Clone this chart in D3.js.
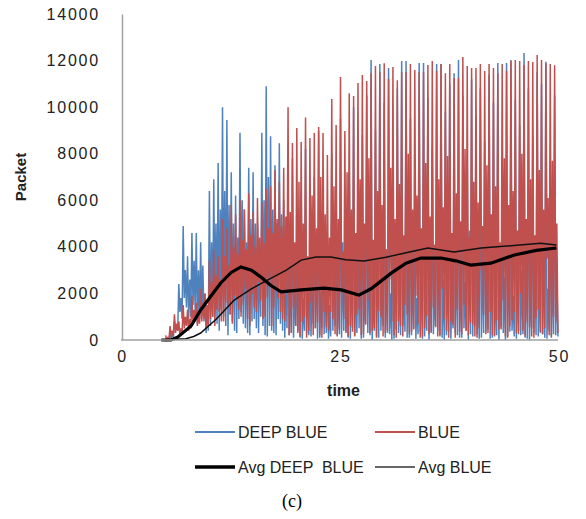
<!DOCTYPE html>
<html>
<head>
<meta charset="utf-8">
<script src="https://cdn.jsdelivr.net/npm/d3@7"></script>
<style>
  body { margin: 0; background: #fff; }
  #graf text { font-family: "Liberation Sans", Arial, sans-serif; fill: #222; }
  .axis .domain { stroke: #a0a0a0; stroke-width: 1.5px; }
  .axis text { font-size: 16px; letter-spacing: 1.8px; }
</style>
</head>
<body>
<div id="graf"></div>
<script>
// each cycle of 0.5 time units from t = 5: peak, trough, mid, low
const redPeaks = [200, 600, 1100, 800, 1500, 1300, 1900, 1600, 2200, 2000,
  3400, 3900, 3600, 5200, 4800, 5800, 5400, 6000, 5600, 6300,
  5500, 6100, 5900, 6500, 6600, 7300, 6800, 7400,
  10000, 8460, 9100, 8500, 9560, 8670, 8890, 9150, 8890, 7940,
  10350, 9230, 11290, 8970, 10600, 10480, 11040, 11380, 11120, 11460,
  11770, 11510, 11890, 11210, 11720, 11160, 11510, 11510, 11850, 11590,
  11510, 11510, 11810, 11980, 11550, 11850, 11460, 11850, 11250, 11250,
  12150, 11770, 11680, 11680, 11850, 11550, 11850, 11680, 11460, 11850,
  11550, 11980, 12020, 11980, 11810, 11980, 11940, 12240, 12020, 11890,
  11850, 11800]
const redTroughs = [0, 100, 300, 200, 500, 400, 700, 600, 800, 500,
  900, 600, 1200, 800, 1500, 700, 1800, 1000, 2200, 600,
  1400, 2500, 900, 1800, 600, 2200, 1200, 800,
  200, 1400, 300, 800, 100, 1600, 500, 200, 1200, 400,
  900, 150, 2000, 300, 600, 150, 1300, 250, 1700, 400,
  100, 1000, 300, 2600, 200, 800, 150, 1100, 350, 1900,
  100, 500, 250, 1400, 150, 2200, 400, 800, 100, 350,
  1500, 200, 650, 100, 3000, 250, 1200, 150, 450, 1700,
  100, 850, 300, 2000, 150, 550, 100, 1300, 250, 3500,
  150, 750]
const redMids = [100, 400, 700, 500, 1000, 900, 1300, 1100, 1600, 1500,
  2500, 2800, 2600, 3600, 3200, 4000, 3700, 4300, 3900, 4500,
  4000, 4400, 4200, 4800, 4600, 5200, 4900, 5300,
  5500, 4200, 6800, 5000, 3600, 6200, 4800, 7000, 5400, 4400,
  6600, 5200, 3800, 7200, 5600, 4600, 6900, 5000, 7800, 4300,
  6400, 5800, 3900, 7400, 5200, 6700, 4500, 8000, 5600, 6200,
  4800, 7600, 5300, 4100, 6900, 5700, 7900, 4600, 6300, 5100,
  8200, 4400, 6800, 5900, 4900, 7500, 5400, 6600, 4200, 7800,
  5800, 6400, 4700, 8000, 5200, 6900, 4500, 7300, 5600, 6100,
  7700, 5000]
const redLows = [50, 200, 400, 300, 600, 500, 800, 700, 900, 600,
  1000, 1300, 800, 1600, 1100, 1900, 1300, 1500, 900, 2000,
  1200, 1700, 1000, 2300, 1400, 1800, 900, 2100,
  300, 600, 150, 1000, 400, 200, 750, 100, 550, 1200,
  250, 450, 900, 150, 350, 1100, 200, 650, 300, 500,
  1250, 150, 400, 800, 100, 600, 1500, 250, 450, 700,
  150, 1050, 350, 550, 200, 900, 100, 650, 1300, 250,
  400, 750, 150, 500, 1100, 300, 200, 850, 450, 150,
  600, 1200, 250, 400, 750, 150, 950, 350, 500, 200,
  1000, 300]
const bluePeaks = [100, 300, 800, 2400, 4900, 3600, 4600, 4600, 4200, 2000,
  6400, 6900, 7600, 10000, 9450, 7200, 6200, 8900, 5600, 7400,
  7200, 5000, 8900, 10900, 8750, 7500, 8450, 6000,
  5200, 7800, 3500, 6400, 8200, 4100, 7000, 9000, 5500, 3800,
  8000, 6300, 9500, 4600, 7200, 10000, 5800, 8800, 10500,
  12020, 9000, 11850, 10200, 11680, 7500, 10800, 11980, 11980, 9500,
  6800, 11900, 11900, 10400, 8200, 11850, 11850, 9800, 11000, 11460,
  12020, 10500, 7800, 11200, 9600, 10800, 8500, 11400, 10200, 11900,
  6500, 11900, 12020, 10300, 9200, 12320, 10800, 8800, 11500, 11000,
  11950, 7800, 10500]
const blueTroughs = [0, 100, 500, 1200, 1800, 900, 1500, 700, 1100, 300,
  600, 1500, 400, 1000, 200, 800, 300, 1200, 500, 200,
  900, 300, 600, 150, 400, 200, 700, 100,
  200, 100, 400, 50, 300, 150, 500, 100, 250, 50,
  400, 200, 100, 350, 50, 200, 500, 100, 300, 0,
  150, 400, 100, 250, 50, 300, 600, 100, 200, 50,
  350, 150, 0, 250, 400, 100, 200, 50, 300, 100,
  500, 0, 150, 250, 100, 350, 50, 200, 0, 300,
  150, 400, 50, 200, 100, 0, 300, 150, 250, 50,
  100, 200]
const blueMids = [50, 200, 600, 1800, 3000, 2600, 3400, 3000, 3200, 1500,
  4200, 5000, 5600, 6400, 5800, 5000, 4400, 6000, 4200, 5200,
  5000, 3800, 6000, 7000, 5600, 5000, 5400, 4000,
  3000, 2200, 4000, 1800, 3500, 2500, 4400, 2000, 3200, 1500,
  3800, 2600, 4200, 1900, 3400, 2800, 4600, 2300, 3900, 2100,
  4500, 2700, 3600, 2000, 4800, 3000, 2400, 4100, 3300, 1800,
  4300, 2900, 3700, 2200, 5000, 2600, 3500, 2000, 4400, 3100,
  2500, 4700, 3200, 2100, 3900, 2800, 4500, 2300, 3600, 2700,
  4200, 1900, 3800, 3000, 4600, 2400, 3400, 2900, 4100, 2200,
  3700, 3000]
const blueLows = [0, 150, 400, 900, 1400, 1000, 1200, 900, 800, 400,
  1000, 700, 1300, 600, 1100, 400, 900, 700, 300, 800,
  500, 1000, 200, 600, 300, 900, 400, 500,
  300, 600, 100, 400, 200, 700, 50, 500, 300, 150,
  600, 250, 400, 100, 500, 300, 50, 700, 200, 400,
  100, 600, 300, 0, 450, 200, 350, 100, 500, 250,
  50, 400, 300, 600, 150, 0, 350, 500, 200, 100,
  400, 250, 600, 50, 300, 450, 100, 200, 550, 0,
  350, 150, 400, 250, 50, 500, 200, 300, 100, 400,
  250, 150]

const avgDeepTime = [4.5, 5.6, 6.4, 7.9, 9.0, 10.2, 11.3, 12.5, 13.6, 14.8, 15.9, 17.0, 18.2,
  20.5, 23.1, 25.1, 27.1, 28.5, 30.8, 32.5, 34.2, 36.5, 38.2, 39.9, 42.2, 44.9, 47.4, 49.7]
const avgDeepVal = [0, 0, 130, 600, 1290, 1900, 2450, 2900, 3140, 3000, 2700, 2350, 2070,
  2150, 2230, 2150, 1930, 2200, 2870, 3300, 3520, 3520, 3400, 3220, 3300, 3650, 3850, 3950]
const avgBlueTime = [4.5, 7.3, 8.2, 9.0, 10.8, 12.8, 14.8, 16.7, 18.8, 20.5, 22.2,
  23.9, 25.6, 27.7, 30.2, 32.5, 35.0, 38.0, 41.1, 44.5, 47.9, 49.7]
const avgBlueVal = [0, 50, 150, 300, 900, 1700, 2200, 2580, 3000, 3430, 3560,
  3560, 3450, 3390, 3550, 3750, 3950, 3780, 3950, 4050, 4160, 4080]

const xTicks = [0, 25, 50]
const yTicks = [0, 2000, 4000, 6000, 8000, 10000, 12000, 14000]
const legendRows = [
  ["DEEP BLUE", "BLUE"],
  ["Avg DEEP  BLUE", "Avg BLUE"]
]

const draw = () => {
  const anchoTotal = 586
  const altoTotal = 519
  const margins = { top: 14, right: 27, bottom: 179, left: 122 }
  const ancho = anchoTotal - margins.left - margins.right
  const alto = altoTotal - margins.top - margins.bottom

  const colorDeep = "#4f81bd"
  const colorBlue = "#c0504d"

  // armar series: pico, valle, medio, bajo en cada ciclo
  const serie = (picos, valles, medios, bajos) => {
    const out = []
    picos.forEach((p, i) => {
      const t0 = 5 + 0.5 * i
      out.push({ t: t0, v: p })
      out.push({ t: t0 + 0.125, v: valles[i] })
      out.push({ t: t0 + 0.25, v: medios[i] })
      out.push({ t: t0 + 0.375, v: bajos[i] })
    })
    return out
  }
  const deep = serie(bluePeaks, blueTroughs, blueMids, blueLows)
  const blue = serie(redPeaks, redTroughs, redMids, redLows)
  const avgDeep = avgDeepTime.map((t, i) => ({ t: t, v: avgDeepVal[i] }))
  const avgBlue = avgBlueTime.map((t, i) => ({ t: t, v: avgBlueVal[i] }))

  const x = d3.scaleLinear().domain([0, 50]).range([0, ancho])
  const y = d3.scaleLinear().domain([0, 14000]).range([alto, 0])

  const svg = d3.select("#graf")
    .append("svg")
    .attr("width", anchoTotal)
    .attr("height", altoTotal)

  const chart = svg.append("g")
    .attr("transform", `translate(${margins.left}, ${margins.top})`)

  const line = d3.line()
    .x((d) => x(d.t))
    .y((d) => y(d.v))

  chart.append("path")
    .datum(deep)
    .attr("d", line)
    .attr("fill", "none")
    .attr("stroke", colorDeep)
    .attr("stroke-width", 1.5)

  chart.append("path")
    .datum(blue)
    .attr("d", line)
    .attr("fill", "none")
    .attr("stroke", colorBlue)
    .attr("stroke-width", 1.5)

  chart.append("path")
    .datum(avgBlue)
    .attr("d", line)
    .attr("fill", "none")
    .attr("stroke", "#111")
    .attr("stroke-width", 1.5)

  chart.append("path")
    .datum(avgDeep)
    .attr("d", line)
    .attr("fill", "none")
    .attr("stroke", "#000")
    .attr("stroke-width", 3.2)

  // Ejes
  const xAxis = d3.axisBottom(x).tickValues(xTicks).tickSize(0).tickPadding(11)
  const yAxis = d3.axisLeft(y).tickValues(yTicks).tickSize(0).tickPadding(22)
    .tickFormat(d3.format("d"))

  const xAxisGroup = chart.append("g")
    .attr("transform", `translate(0, ${alto})`)
    .call(xAxis)
    .classed("axis", true)
  const yAxisGroup = chart.append("g")
    .call(yAxis)
    .classed("axis", true)
  xAxisGroup.select(".domain").attr("d", `M-1,0H${ancho - 1}`)

  svg.selectAll(".axis text").attr("font-family", null).attr("font-size", null)

  xAxisGroup.append("text")
    .attr("x", x(25) + 3)
    .attr("y", 56)
    .attr("text-anchor", "middle")
    .style("font-weight", "bold")
    .style("font-size", "16px")
    .style("letter-spacing", "0px")
    .text("time")

  yAxisGroup.append("text")
    .attr("transform", `translate(${-margins.left + 26}, ${y(7000)}) rotate(-90)`)
    .attr("text-anchor", "middle")
    .style("font-weight", "bold")
    .style("font-size", "15px")
    .style("letter-spacing", "0px")
    .text("Packet")

  // Leyenda
  const legend = svg.append("g")
  const estilos = [
    [{ c: colorDeep, w: 2 }, { c: colorBlue, w: 2 }],
    [{ c: "#000", w: 3.5 }, { c: "#333", w: 1.5 }]
  ]
  legendRows.forEach((fila, r) => {
    fila.forEach((label, c) => {
      const lx = 195 + c * 180
      const ly = 432 + r * 35
      legend.append("line")
        .attr("x1", lx).attr("x2", lx + 40)
        .attr("y1", ly).attr("y2", ly)
        .attr("stroke", estilos[r][c].c)
        .attr("stroke-width", estilos[r][c].w)
      legend.append("text")
        .attr("x", lx + 43)
        .attr("y", ly)
        .attr("dy", "0.36em")
        .style("font-size", "16px")
        .style("white-space", "pre")
        .text(label)
    })
  })

  svg.append("text")
    .attr("x", 292)
    .attr("y", 507)
    .attr("text-anchor", "middle")
    .style("font-family", "'Liberation Serif', 'Times New Roman', serif")
    .style("font-size", "18px")
    .style("fill", "#000")
    .text("(c)")
}

draw()
</script>
</body>
</html>
